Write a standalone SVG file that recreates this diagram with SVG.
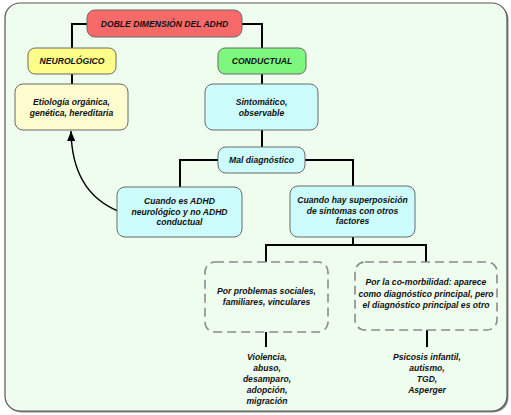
<svg xmlns="http://www.w3.org/2000/svg" width="511" height="415" viewBox="0 0 511 415">
<defs>
<style>
.t{font-family:"Liberation Sans",Arial,sans-serif;font-size:8.6px;font-style:italic;font-weight:bold;fill:#111;text-anchor:middle}
.box{stroke:#6a6a6a;stroke-width:1}
.c{fill:none;stroke:#000;stroke-width:2}
.dash{fill:none;stroke:#8a8a8a;stroke-width:1.6;stroke-dasharray:9 5}
</style>
<marker id="ah" markerWidth="10" markerHeight="8" refX="10" refY="4" orient="auto" markerUnits="userSpaceOnUse" viewBox="0 0 10 8">
<path d="M0,0 L10,4 L0,8 Z" fill="#000"/>
</marker>
</defs>
<rect x="6.5" y="4.5" width="502" height="408" rx="15" fill="#888"/>
<rect x="5" y="3" width="502" height="408" rx="15" fill="#effdef" stroke="#555" stroke-width="1.2"/>
<g id="connectors">
<path class="c" d="M87,24 H72 V48"/>
<path class="c" d="M242,24 H262 V48"/>
<path class="c" d="M72,74 V84"/>
<path class="c" d="M262,74 V84"/>
<path class="c" d="M262,130 V147"/>
<path class="c" d="M218,160 H180 V187"/>
<path class="c" d="M305,160 H353 V186"/>
<path class="c" d="M353,237 V245 M265,245 H427 M266,244 V262 M426,244 V262"/>
<path class="c" d="M266,332 V347 M427,330 V347"/>
<path d="M118,211 Q72,192 71,131" fill="none" stroke="#000" stroke-width="1.4" marker-end="url(#ah)"/>
</g>
<g id="title">
<rect class="box" x="87" y="10" width="155" height="27" rx="8" fill="#f86a6a"/>
<text class="t" x="164.5" y="27">DOBLE DIMENSIÓN DEL ADHD</text>
</g>
<g id="neuro">
<rect class="box" x="28" y="48" width="88" height="26" rx="7" fill="#fdfd88" stroke="#c8c86a"/>
<text class="t" x="72" y="64">NEUROLÓGICO</text>
</g>
<g id="conductual">
<rect class="box" x="218" y="48" width="88" height="26" rx="7" fill="#7ef77e"/>
<text class="t" x="262" y="64">CONDUCTUAL</text>
</g>
<g id="etiologia">
<rect class="box" x="15" y="84" width="113" height="46" rx="8" fill="#fdfdd0"/>
<text class="t" x="71.5" y="105">Etiología orgánica,</text>
<text class="t" x="71.5" y="115.5">genética, hereditaria</text>
</g>
<g id="sintomatico">
<rect class="box" x="205" y="84" width="113" height="46" rx="8" fill="#ccfcfc"/>
<text class="t" x="261.5" y="105">Sintomático,</text>
<text class="t" x="261.5" y="115.5">observable</text>
</g>
<g id="mal">
<rect class="box" x="218" y="147" width="87" height="26" rx="8" fill="#ccfcfc"/>
<text class="t" x="261.5" y="163">Mal diagnóstico</text>
</g>
<g id="cuandoes">
<rect class="box" x="117" y="187" width="125" height="50" rx="8" fill="#ccfcfc"/>
<text class="t" x="179.5" y="204">Cuando es ADHD</text>
<text class="t" x="179.5" y="214.5">neurológico y no ADHD</text>
<text class="t" x="179.5" y="225">conductual</text>
</g>
<g id="cuandohay">
<rect class="box" x="290" y="186" width="125" height="51" rx="8" fill="#ccfcfc"/>
<text class="t" x="352.5" y="203">Cuando hay superposición</text>
<text class="t" x="352.5" y="213.5">de síntomas con otros</text>
<text class="t" x="352.5" y="224">factores</text>
</g>
<g id="sociales">
<rect class="dash" x="205" y="262" width="123" height="70" rx="10"/>
<text class="t" x="266.5" y="294">Por problemas sociales,</text>
<text class="t" x="266.5" y="305">familiares, vinculares</text>
</g>
<g id="comorbilidad">
<rect class="dash" x="355" y="262" width="142" height="68" rx="10"/>
<text class="t" x="426" y="285">Por la co-morbilidad: aparece</text>
<text class="t" x="426" y="296.5">como diagnóstico principal, pero</text>
<text class="t" x="426" y="308">el diagnóstico principal es otro</text>
</g>
<g id="violencia">
<text class="t" x="267" y="360">Violencia,</text>
<text class="t" x="267" y="371">abuso,</text>
<text class="t" x="267" y="382">desamparo,</text>
<text class="t" x="267" y="393">adopción,</text>
<text class="t" x="267" y="404">migración</text>
</g>
<g id="psicosis">
<text class="t" x="427" y="360">Psicosis infantil,</text>
<text class="t" x="427" y="371">autismo,</text>
<text class="t" x="427" y="382">TGD,</text>
<text class="t" x="427" y="393">Asperger</text>
</g>
</svg>
